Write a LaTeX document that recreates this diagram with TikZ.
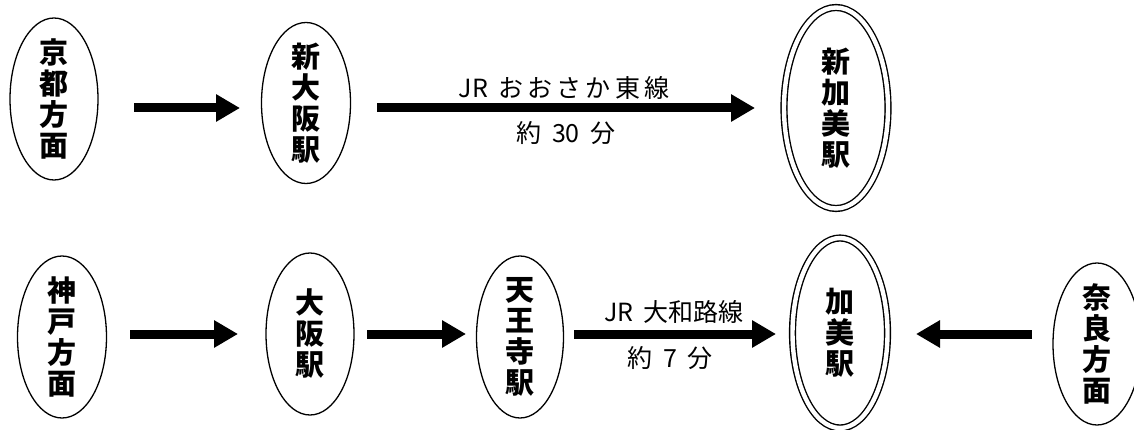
\documentclass[tikz,border=0pt]{standalone}
\usepackage{fontspec}
\newfontfamily\jp{Noto Sans CJK JP}
\usetikzlibrary{shapes.geometric,arrows.meta}
\tikzset{
  station/.style={ellipse, draw=black, line width=1.3pt, inner sep=0pt},
  terminal/.style={ellipse, draw=black, line width=1.4pt, double, double distance=4.4pt, inner sep=0pt},
  stext/.style={align=center, inner sep=0pt, font=\jp\bfseries\fontsize{29}{31}\selectfont},
  ltext/.style={inner sep=0pt, font=\jp\fontsize{25}{28}\selectfont},
  bigarrow/.style={line width=9pt, -{Triangle[length=24pt,width=26pt]}}
}
\newcommand{\gp}{\hspace{0.42em}}
\begin{document}
\begin{tikzpicture}[x=1pt,y=1pt]
\useasboundingbox (0,0) rectangle (1134,-430);
% top row
\node[station, minimum width=88pt, minimum height=162pt, label={[stext]center:京\\都\\方\\面}] (kyoto) at (54,-99) {};
\node[station, minimum width=89pt, minimum height=161pt, label={[stext]center:新\\大\\阪\\駅}] (shinosaka) at (306,-103) {};
\node[terminal, minimum width=104pt, minimum height=201pt, label={[stext]center:新\\加\\美\\駅}] (shinkami) at (836,-108) {};
\coordinate (a1s) at (134,-108);
\coordinate (a1e) at (240,-108);
\coordinate (a2s) at (377,-108);
\coordinate (a2e) at (755,-108);
\draw[bigarrow] (a1s) -- (a1e);
\draw[bigarrow] (a2s) -- (a2e);
\node[ltext] (l1) at (564,-88) {JR\gp お\,お\,さ\,か\,東\,線};
\node[ltext] (t1) at (566,-133) {約\gp 30\gp 分};
% bottom row
\node[station, minimum width=89pt, minimum height=162pt, label={[stext]center:神\\戸\\方\\面}] (kobe) at (62,-337) {};
\node[station, minimum width=88pt, minimum height=162pt, label={[stext]center:大\\阪\\駅}] (osaka) at (310,-334) {};
\node[station, minimum width=87pt, minimum height=162pt, label={[stext]center:天\\王\\寺\\駅}] (tennoji) at (520,-337) {};
\node[terminal, minimum width=95pt, minimum height=190pt, label={[stext]center:加\\美\\駅}] (kami) at (840,-333) {};
\node[station, minimum width=88pt, minimum height=162pt, label={[stext]center:奈\\良\\方\\面}] (nara) at (1097,-344) {};
\coordinate (b1s) at (130,-334);
\coordinate (b1e) at (238,-334);
\coordinate (b2s) at (367,-334);
\coordinate (b2e) at (466,-334);
\coordinate (b3s) at (574,-334);
\coordinate (b3e) at (776,-334);
\coordinate (b4s) at (1032,-334);
\coordinate (b4e) at (916,-334);
\draw[bigarrow] (b1s) -- (b1e);
\draw[bigarrow] (b2s) -- (b2e);
\draw[bigarrow] (b3s) -- (b3e);
\draw[bigarrow] (b4s) -- (b4e);
\node[ltext] (l2) at (674,-312) {JR\gp 大和路線};
\node[ltext] (t2) at (670,-358) {約\gp 7\gp 分};
\end{tikzpicture}
\end{document}
